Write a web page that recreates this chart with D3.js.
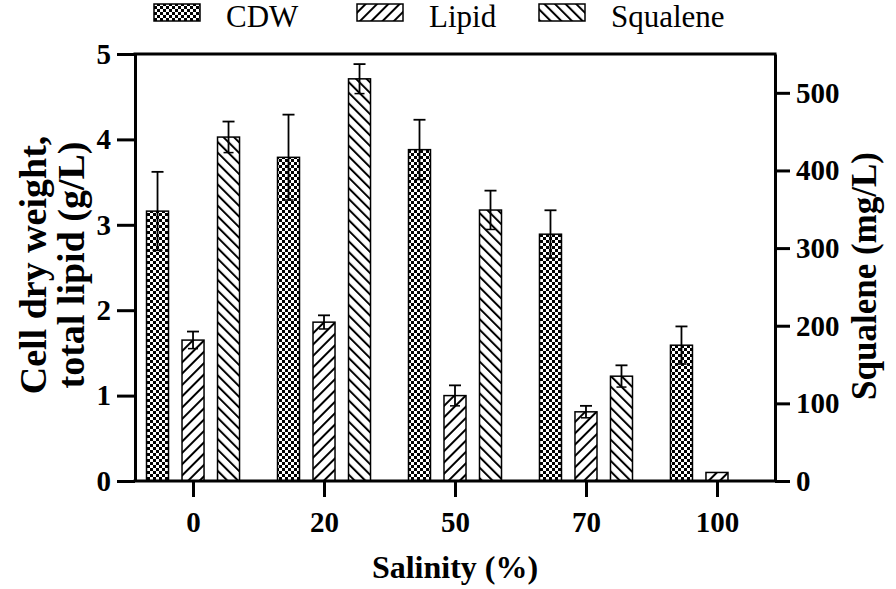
<!DOCTYPE html>
<html><head><meta charset="utf-8">
<script src="https://cdn.jsdelivr.net/npm/d3@7"></script>
<style>
html,body{margin:0;padding:0;background:#fff;}
svg{display:block;}
</style></head>
<body><div id="chart"></div>
<script>
const categories = ["0","20","50","70","100"];
const seriesNames = ["CDW","Lipid","Squalene"];
const cdw = [3.16,3.79,3.88,2.89,1.59];
const cdwErr = [0.46,0.50,0.35,0.28,0.22];
const lipid = [1.65,1.86,1.00,0.81,0.10];
const lipidErr = [0.10,0.08,0.12,0.07,0];
const squalene = [443,518,349,135,0];
const squaleneErr = [20,19,25,14,0];
const leftTicks = [0,1,2,3,4,5];
const rightTicks = [0,100,200,300,400,500];

const FONT = `"Liberation Serif"`;
const W = 896, H = 589;
const svg = d3.select("#chart").append("svg").attr("width",W).attr("height",H)
  .style("font-family",FONT);
const defs = svg.append("defs");

const pc = defs.append("pattern").attr("id","pCDW").attr("patternUnits","userSpaceOnUse")
  .attr("width",6).attr("height",6);
pc.append("rect").attr("width",6).attr("height",6).attr("fill","#fff");
pc.append("rect").attr("width",3).attr("height",3).attr("fill","#000");
pc.append("rect").attr("x",3).attr("y",3).attr("width",3).attr("height",3).attr("fill","#000");

function hatch(id, angle, sp){
  const p = defs.append("pattern").attr("id",id).attr("patternUnits","userSpaceOnUse")
    .attr("width",sp).attr("height",sp).attr("patternTransform",`rotate(${angle})`);
  p.append("rect").attr("width",sp).attr("height",sp).attr("fill","#fff");
  p.append("line").attr("x1",1).attr("y1",0).attr("x2",1).attr("y2",sp)
    .attr("stroke","#000").attr("stroke-width",2);
}
hatch("pLipid",45,8);
hatch("pSqualene",-45,7.5);
const fills = {CDW:"url(#pCDW)",Lipid:"url(#pLipid)",Squalene:"url(#pSqualene)"};

const x0 = 135, x1 = 775, yTop = 54, yBot = 481;
const x = d3.scalePoint().domain(categories).range([x0,x1]).padding(0.443);
const xi = d3.scaleBand().domain(seriesNames).range([-60,60]).padding(0.38);
const yL = d3.scaleLinear().domain([0,5]).range([yBot,yTop]);
const yR = d3.scaleLinear().domain([0,550]).range([yBot,yTop]);

const data = [];
categories.forEach((c,i)=>{
  data.push({cat:c,s:"CDW",v:cdw[i],e:cdwErr[i],y:yL});
  data.push({cat:c,s:"Lipid",v:lipid[i],e:lipidErr[i],y:yL});
  data.push({cat:c,s:"Squalene",v:squalene[i],e:squaleneErr[i],y:yR});
});
const cx = d=>x(d.cat)+xi(d.s)+xi.bandwidth()/2;

const g = svg.append("g");
const bars = g.selectAll("g.bar").data(data.filter(d=>d.v>0)).join("g");
bars.append("rect")
  .attr("x",d=>x(d.cat)+xi(d.s))
  .attr("y",d=>d.y(d.v))
  .attr("width",xi.bandwidth())
  .attr("height",d=>yBot-d.y(d.v))
  .attr("fill",d=>fills[d.s]).attr("stroke","#000").attr("stroke-width",1.5);
const eb = bars.filter(d=>d.e>0);
eb.append("line")
  .attr("x1",cx).attr("x2",cx)
  .attr("y1",d=>d.y(d.v+d.e)).attr("y2",d=>d.y(d.v-d.e))
  .attr("stroke","#000").attr("stroke-width",1.8);
eb.append("line")
  .attr("x1",d=>cx(d)-6).attr("x2",d=>cx(d)+6)
  .attr("y1",d=>d.y(d.v+d.e)).attr("y2",d=>d.y(d.v+d.e))
  .attr("stroke","#000").attr("stroke-width",1.8);
eb.append("line")
  .attr("x1",d=>cx(d)-5).attr("x2",d=>cx(d)+5)
  .attr("y1",d=>d.y(d.v-d.e)).attr("y2",d=>d.y(d.v-d.e))
  .attr("stroke","#000").attr("stroke-width",1.5);

const axL = svg.append("g").attr("transform",`translate(${x0},0)`)
  .call(d3.axisLeft(yL).tickValues(leftTicks).tickFormat(d3.format("d")).tickSize(18).tickPadding(6).tickSizeOuter(0));
const axR = svg.append("g").attr("transform",`translate(${x1},0)`)
  .call(d3.axisRight(yR).tickValues(rightTicks).tickFormat(d3.format("d")).tickSize(15).tickPadding(6).tickSizeOuter(0));
const axB = svg.append("g").attr("transform",`translate(0,${yBot})`)
  .call(d3.axisBottom(x).tickSize(16).tickPadding(14).tickSizeOuter(0));
[axL,axR,axB].forEach(a=>{
  a.attr("font-family",null).attr("font-size",null);
  a.selectAll("path,line").attr("stroke","#000").attr("stroke-width",3);
  a.selectAll("text").style("font-family",FONT).style("font-size","29px")
    .style("font-weight","bold").attr("fill","#000");
});
axB.select("path.domain").attr("d",`M${x0-1.5},0H${x1+1.5}`);
svg.append("line").attr("x1",x0-1.5).attr("x2",x1+1.5).attr("y1",yTop).attr("y2",yTop)
  .attr("stroke","#000").attr("stroke-width",3);

function T(sel){ return sel.style("font-family",FONT).attr("fill","#000"); }
T(svg.append("text")).attr("x",(x0+x1)/2).attr("y",578).attr("text-anchor","middle")
  .style("font-size","32px").style("font-weight","bold").text("Salinity (%)");
const lt = T(svg.append("text")).attr("transform","translate(46,265) rotate(-90)")
  .attr("text-anchor","middle").style("font-size","38px").style("font-weight","bold");
lt.append("tspan").attr("x",0).attr("y",0).text("Cell dry weight,");
lt.append("tspan").attr("x",0).attr("y",38).text("total lipid (g/L)");
T(svg.append("text")).attr("transform","translate(876,276) rotate(-90)")
  .attr("text-anchor","middle").style("font-size","35px").style("font-weight","bold").text("Squalene (mg/L)");

const legX = [154,357,539];
const leg = svg.append("g").selectAll("g").data(seriesNames).join("g")
  .attr("transform",(d,i)=>`translate(${legX[i]},0)`);
leg.append("rect").attr("x",0).attr("y",4).attr("width",46).attr("height",17)
  .attr("fill",d=>fills[d]).attr("stroke","#000").attr("stroke-width",1.5);
T(leg.append("text")).attr("x",72).attr("y",27).style("font-size","31px").text(d=>d);
</script></body></html>
